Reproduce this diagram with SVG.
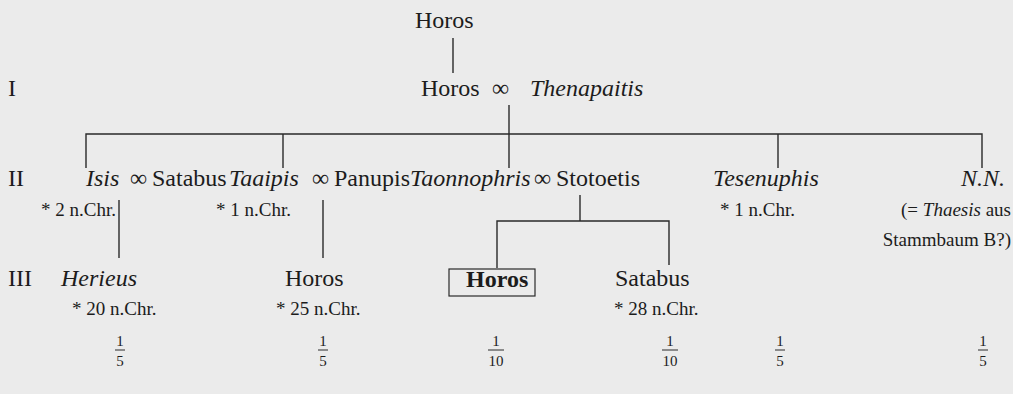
<svg xmlns="http://www.w3.org/2000/svg" width="1013" height="394" viewBox="0 0 1013 394">
<style>
text{font-family:"Liberation Serif","Times New Roman",serif;fill:#1c1c1c}
.n{font-size:24px}
.i{font-style:italic}
.b{font-weight:bold}
.d{font-size:19px}
.f{font-size:15px;text-anchor:middle}
.c{stroke:#2a2a2a;stroke-width:1.4;fill:none}
.fb{stroke:#2a2a2a;stroke-width:1}
</style>
<rect width="1013" height="394" fill="#ebebeb"/>
<g id="gen-labels">
<text class="n" x="8" y="96">I</text>
<text class="n" x="8" y="186">II</text>
<text class="n" x="8" y="286">III</text>
</g>
<g id="connectors">
<line class="c" x1="453" y1="38" x2="453" y2="73"/>
<line class="c" x1="509" y1="105" x2="509" y2="168"/>
<polyline class="c" points="86,168 86,134 982,134 982,168"/>
<line class="c" x1="283" y1="134" x2="283" y2="168"/>
<line class="c" x1="778" y1="134" x2="778" y2="168"/>
<line class="c" x1="119" y1="200" x2="119" y2="258"/>
<line class="c" x1="323" y1="200" x2="323" y2="258"/>
<line class="c" x1="580" y1="195" x2="580" y2="221"/>
<polyline class="c" points="497,268 497,221 669,221 669,265"/>
</g>
<g id="horos-top"><text class="n" x="415" y="28">Horos</text></g>
<g id="horos-thenapaitis">
<text class="n" x="421" y="96">Horos</text>
<text class="n" x="492" y="96">∞</text>
<text class="n i" x="530" y="96">Thenapaitis</text>
</g>
<g id="isis-satabus">
<text class="n i" x="86" y="186">Isis</text>
<text class="n" x="130" y="186">∞</text>
<text class="n" x="152" y="186">Satabus</text>
<text class="d" x="41" y="216">* 2 n.Chr.</text>
</g>
<g id="taaipis-panupis">
<text class="n i" x="229" y="186">Taaipis</text>
<text class="n" x="312" y="186">∞</text>
<text class="n" x="334" y="186">Panupis</text>
<text class="d" x="216" y="216">* 1 n.Chr.</text>
</g>
<g id="taonnophris-stotoetis">
<text class="n i" x="410" y="186">Taonnophris</text>
<text class="n" x="534" y="186">∞</text>
<text class="n" x="556" y="186">Stotoetis</text>
</g>
<g id="tesenuphis">
<text class="n i" x="713" y="186">Tesenuphis</text>
<text class="d" x="720" y="216">* 1 n.Chr.</text>
</g>
<g id="nn">
<text class="n i" x="1005" y="186" text-anchor="end">N.N.</text>
<text class="d" x="1011" y="216" text-anchor="end">(= <tspan font-style="italic">Thaesis</tspan>  aus</text>
<text class="d" x="1011" y="246" text-anchor="end">Stammbaum B?)</text>
</g>
<g id="herieus">
<text class="n i" x="61" y="286">Herieus</text>
<text class="d" x="72" y="315">* 20 n.Chr.</text>
</g>
<g id="horos-3">
<text class="n" x="285" y="286">Horos</text>
<text class="d" x="276" y="315">* 25 n.Chr.</text>
</g>
<g id="horos-bold">
<rect x="449" y="269" width="86" height="27" fill="none" stroke="#2a2a2a" stroke-width="1.2"/>
<text class="n b" x="466" y="287">Horos</text>
</g>
<g id="satabus-3">
<text class="n" x="615" y="286">Satabus</text>
<text class="d" x="614" y="315">* 28 n.Chr.</text>
</g>
<g id="fractions">
<text class="f" x="120" y="346">1</text><line class="fb" x1="115" y1="350" x2="125" y2="350"/><text class="f" x="120" y="366">5</text>
<text class="f" x="323" y="346">1</text><line class="fb" x1="318" y1="350" x2="328" y2="350"/><text class="f" x="323" y="366">5</text>
<text class="f" x="496" y="346">1</text><line class="fb" x1="488" y1="350" x2="504" y2="350"/><text class="f" x="496" y="366">10</text>
<text class="f" x="670" y="346">1</text><line class="fb" x1="662" y1="350" x2="678" y2="350"/><text class="f" x="670" y="366">10</text>
<text class="f" x="780" y="346">1</text><line class="fb" x1="775" y1="350" x2="785" y2="350"/><text class="f" x="780" y="366">5</text>
<text class="f" x="983" y="346">1</text><line class="fb" x1="978" y1="350" x2="988" y2="350"/><text class="f" x="983" y="366">5</text>
</g>
</svg>
